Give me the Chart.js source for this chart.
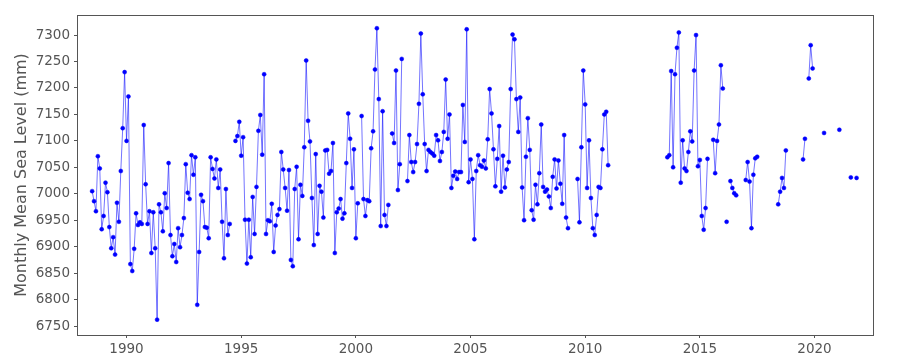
<!DOCTYPE html>
<html>
<head>
<meta charset="utf-8">
<script src="https://cdn.jsdelivr.net/npm/chart.js@4/dist/chart.umd.min.js"></script>
<style>
  body { margin: 0; background: #fff; }
</style>
</head>
<body>
<canvas id="myChart" width="900" height="360"></canvas>
<script>

// monthly mean sea level, first run starts July 1988 (null = missing month)
const startA = { year: 1988, month: 7 }
const levelsA = [
    7005, 6986, 6967, 7071, 7048, 6933, 6958, 7021, 7003, 6937, 6897, 6918,
    6885, 6983, 6947, 7043, 7124, 7230, 7100, 7184, 6867, 6854, 6896, 6963,
    6941, 6946, 6943, 7130, 7018, 6943, 6967, 6888, 6965, 6897, 6762, 6980,
    6965, 6929, 7001, 6973, 7058, 6922, 6882, 6905, 6871, 6935, 6899, 6922,
    6954, 7056, 7002, 6990, 7073, 7036, 7069, 6790, 6890, 6998, 6986, 6937,
    6936, 6916, 7069, 7047, 7029, 7065, 7011, 7046, 6947, 6878, 7009, 6922,
    6943, null, null, 7100, 7109, 7136, 7072, 7107, 6951, 6868, 6951, 6880,
    6994, 6924, 7013, 7119, 7149, 7074, 7226, 6924, 6950, 6948, 6981, 6890,
    6940, 6960, 6971, 7079, 7046, 7011, 6968, 7045, 6875, 6863, 7009, 7051,
    6914, 7017, 6996, 7088, 7252, 7138, 7099, 6992, 6903, 7075, 6924, 7015,
    7004, 6955, 7082, 7083, 7038, 7043, 7096, 6888, 6965, 6972, 6990, 6953,
    6963, 7058, 7152, 7104, 7011, 7084, 6916, 6982, null, 7147, 6990, 6958,
    6988, 6986, 7086, 7118, 7235, 7313, 7179, 6939, 7156, 6960, 6939, 6979,
    null, 7114, 7096, 7233, 7007, 7056, 7255, null, null, 7024, 7111, 7060,
    7041, 7060, 7094, 7170, 7303, 7188, 7094, 7043, 7083, 7079, 7076, 7072,
    7111, 7101, 7062, 7079, 7117, 7216, 7104, 7150, 7011, 7034, 7042, 7028,
    7041, 7041, 7168, 7098, 7311, 7022, 7065, 7028, 6914, 7043, 7073, 7054,
    7051, 7063, 7048, 7103, 7198, 7152, 7084, 7014, 7066, 7128, 7004, 7072,
    7012, 7046, 7060, 7198, 7301, 7292, 7179, 7117, 7182, 7012, 6950, 7070,
    7143, 7083, 6969, 6951, 7017, 6980, 7039, 7131, 7013, 7004, 7008, 6995,
    6973, 7032, 7065, 7010, 7063, 7019, 6981, 7111, 6955, 6935, null, null,
    null, null, 7028, 6946, 7088, 7233, 7169, 7011, 7101, 6992, 6935, 6922,
    6960, 7013, 7011, 7084, 7150, 7155, 7054
]

// second run starts August 2013
const startB = { year: 2013, month: 8 }
const levelsB = [
    7069, 7073, 7232, 7050, 7226, 7276, 7305, 7021, 7101, 7048, 7043, 7079,
    7118, 7099, 7233, 7300, 7052, 7064, 6958, 6932, 6973, 7066, null, null,
    7102, 7039, 7100, 7131, 7243, 7199, null, 6947, null, 7024, 7011, 7001,
    6997, null, null, null, null, 7026, 7060, 7023, 6935, 7036, 7067, 7070,
    null, null, null, null, null, null, null, null, null, null, 6980, 7004,
    7030, 7011, 7082, null, null, null, null, null, null, null, null, 7065,
    7104, null, 7218, 7281, 7237, null, null, null, null, null, 7115, null,
    null, null, null, null, null, null, 7121, null, null, null, null, null,
    7031, null, null, 7030
]

const yearTicks = [1990, 1995, 2000, 2005, 2010, 2015, 2020]
const levelTicks = [6750, 6800, 6850, 6900, 6950, 7000, 7050, 7100, 7150, 7200, 7250, 7300]

const toPoints = (start, values) =>
    values.map((v, i) => ({ x: start.year + (start.month - 1 + i) / 12, y: v }))

const points = toPoints(startA, levelsA)
    .concat([{ x: 2012, y: null }])
    .concat(toPoints(startB, levelsB))

const axisColor = '#555'
const font = { family: 'DejaVu Sans', size: 13.5 }

// matplotlib-like box around the plot
const boxPlugin = {
    id: 'box',
    afterDraw(chart) {
        const a = chart.chartArea
        const ctx = chart.ctx
        ctx.save()
        ctx.strokeStyle = axisColor
        ctx.lineWidth = 1
        ctx.strokeRect(Math.round(a.left) + 0.5, Math.round(a.top) + 0.5,
            Math.round(a.right - a.left), Math.round(a.bottom - a.top))
        ctx.restore()
    }
}

const config = {
    type: 'line',
    data: {
        datasets: [{
            label: 'Monthly Mean Sea Level',
            data: points,
            borderColor: 'rgba(0, 0, 255, 0.55)',
            borderWidth: 1,
            backgroundColor: '#0000ff',
            pointBackgroundColor: '#0000ff',
            pointBorderColor: '#0000ff',
            pointBorderWidth: 0.5,
            pointRadius: 2,
            spanGaps: false,
            tension: 0
        }]
    },
    options: {
        responsive: false,
        animation: false,
        devicePixelRatio: 1,
        layout: { padding: { top: 15, right: 27, left: 0, bottom: 0 } },
        plugins: { legend: { display: false }, tooltip: { enabled: false } },
        scales: {
            x: {
                type: 'linear',
                min: 1987.84,
                max: 2022.55,
                afterBuildTicks: (scale) => { scale.ticks = yearTicks.map(v => ({ value: v })) },
                afterFit: (scale) => { scale.height = 25 },
                ticks: { color: axisColor, font: font, padding: 3, maxRotation: 0, callback: (v) => String(v) },
                grid: { drawOnChartArea: false, drawTicks: true, tickLength: 3, color: axisColor },
                border: { color: axisColor, width: 1 }
            },
            y: {
                min: 6733,
                max: 7338,
                afterBuildTicks: (scale) => { scale.ticks = levelTicks.map(v => ({ value: v })) },
                afterFit: (scale) => { scale.width = 77 },
                ticks: { color: axisColor, font: font, padding: 4, callback: (v) => String(v) },
                grid: { drawOnChartArea: false, drawTicks: true, tickLength: 3, color: axisColor },
                border: { color: axisColor, width: 1 },
                title: {
                    display: true,
                    text: 'Monthly Mean Sea Level (mm)',
                    color: axisColor,
                    font: { family: 'DejaVu Sans', size: 16 },
                    padding: { top: 12, bottom: 0 }
                }
            }
        }
    },
    plugins: [boxPlugin]
}

const myChart = new Chart(document.getElementById('myChart'), config)
</script>
</body>
</html>
